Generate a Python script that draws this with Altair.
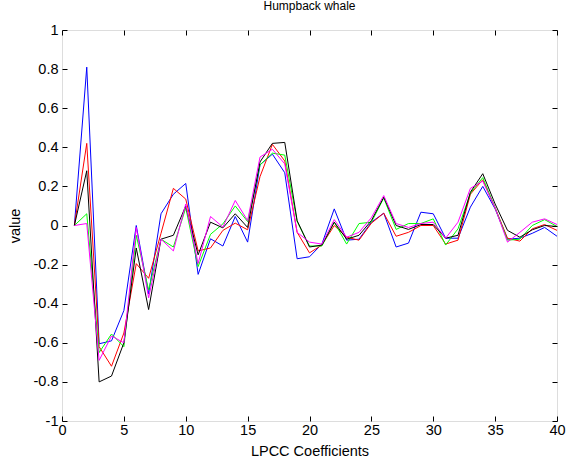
import altair as alt
import pandas as pd

coef = list(range(1, 41))

blue = [0, 0.81, -0.605, -0.59, -0.435, 0.0, -0.35, 0.06, 0.16, 0.215,
        -0.25, -0.068, -0.105, 0.046, -0.085, 0.31, 0.365, 0.27, -0.17, -0.16,
        -0.095, 0.085, -0.075, -0.07, 0.017, 0.063, -0.11, -0.09, 0.068, 0.06,
        -0.065, -0.065, 0.094, 0.2, 0.085, -0.07, -0.065, -0.04, -0.01, -0.055]

red = [0, 0.42, -0.62, -0.72, -0.55, -0.195, -0.27, -0.04, 0.19, 0.135,
       -0.13, -0.115, -0.025, 0.012, -0.022, 0.25, 0.415, 0.33, -0.035, -0.14,
       -0.1, 0.0, -0.06, -0.075, 0.012, 0.063, -0.055, -0.035, 0.0, 0.0,
       -0.095, -0.075, 0.16, 0.234, 0.09, -0.065, -0.08, -0.017, 0.005, -0.025]

green = [0, 0.06, -0.65, -0.555, -0.62, -0.05, -0.33, -0.07, -0.11, 0.09,
         -0.21, -0.045, 0.008, 0.1, 0.02, 0.31, 0.37, 0.36, 0.02, -0.105,
         -0.105, 0.017, -0.095, 0.01, 0.017, 0.14, -0.02, 0.01, 0.01, 0.034,
         -0.1, -0.017, 0.165, 0.245, 0.09, -0.075, -0.07, 0.0, 0.03, -0.005]

magenta = [0, 0.01, -0.69, -0.565, -0.6, -0.01, -0.37, -0.07, -0.13, 0.11,
           -0.195, 0.046, -0.008, 0.128, 0.025, 0.35, 0.39, 0.315, -0.035, -0.085,
           -0.095, 0.03, -0.06, -0.035, 0.04, 0.153, 0.01, -0.01, 0.01, 0.017,
           -0.065, 0.017, 0.19, 0.227, 0.09, -0.085, -0.035, 0.017, 0.034, 0.005]

black = [0, 0.28, -0.80, -0.77, -0.60, -0.115, -0.43, -0.07, -0.05, 0.10,
         -0.15, 0.017, -0.012, 0.06, -0.01, 0.325, 0.42, 0.425, 0.025, -0.11,
         -0.1, 0.017, -0.07, -0.05, 0.025, 0.145, 0.0, -0.02, 0.005, 0.005,
         -0.065, -0.05, 0.17, 0.265, 0.11, -0.025, -0.06, -0.022, 0.0, -0.005]

series = {"1": blue, "2": red, "3": green, "4": black, "5": magenta}
colors = ["#0000ff", "#ff0000", "#00ff00", "#000000", "#ff00ff"]

x_ticks = list(range(0, 41, 5))
y_ticks = [-1, -0.8, -0.6, -0.4, -0.2, 0, 0.2, 0.4, 0.6, 0.8, 1]

rows = []
for name, vals in series.items():
    for c, v in zip(coef, vals):
        rows.append({"coef": c, "value": v, "series": name})
df = pd.DataFrame(rows)

FONT = "Liberation Sans"
ylab = "toString(round(datum.value*10)/10)"
LS = 14.5

x_main = alt.X("coef:Q", scale=alt.Scale(domain=[0, 40], nice=False),
               axis=alt.Axis(values=x_ticks, title="LPCC Coefficients", orient="bottom",
                             offset=-5, tickSize=5, domain=False, grid=False,
                             labelPadding=2, titlePadding=8, labelFlush=False,
                             labelFont=FONT, labelFontSize=LS, titleFont=FONT,
                             titleFontSize=14.5, titleFontWeight="normal",
                             labelColor="black", titleColor="black", tickColor="black"))
y_main = alt.Y("value:Q", scale=alt.Scale(domain=[-1, 1], nice=False),
               axis=alt.Axis(values=y_ticks, title="value", orient="left",
                             offset=-5, tickSize=5, domain=False, grid=False,
                             labelPadding=4, titlePadding=11, labelExpr=ylab,
                             labelFlush=False, labelFont=FONT, labelFontSize=LS,
                             titleFont=FONT, titleFontSize=14.5, titleFontWeight="normal",
                             labelColor="black", titleColor="black", tickColor="black"))
color = alt.Color("series:N", scale=alt.Scale(domain=list(series.keys()), range=colors),
                  legend=None)

lines = alt.Chart(df).mark_line(strokeWidth=1, clip=True).encode(
    x=x_main, y=y_main, color=color, order=alt.Order("coef:Q"))

x_top = alt.X("coef:Q", scale=alt.Scale(domain=[0, 40], nice=False),
              axis=alt.Axis(values=x_ticks, title=None, orient="top", offset=-5,
                            tickSize=5, domain=False, grid=False, labels=False,
                            tickColor="black"))
y_right = alt.Y("value:Q", scale=alt.Scale(domain=[-1, 1], nice=False),
                axis=alt.Axis(values=y_ticks, title=None, orient="right", offset=-5,
                              tickSize=5, domain=False, grid=False, labels=False,
                              tickColor="black"))
frame = alt.Chart(df).mark_line(strokeOpacity=0).encode(
    x=x_top, y=y_right, detail="series:N")

chart = alt.layer(frame, lines).resolve_axis(x="independent", y="independent").properties(
    width=495, height=391,
    padding={"left": 62, "top": 30, "right": 10, "bottom": 41},
    autosize="none",
    title=alt.TitleParams("Humpback whale", fontSize=12, fontWeight="normal",
                          font=FONT, color="black", offset=9),
).configure_view(stroke="black", strokeWidth=1).configure_axis(
    tickWidth=1
).configure(background="white")

chart.save("out.html", embed_options={"renderer": "svg", "actions": False})
